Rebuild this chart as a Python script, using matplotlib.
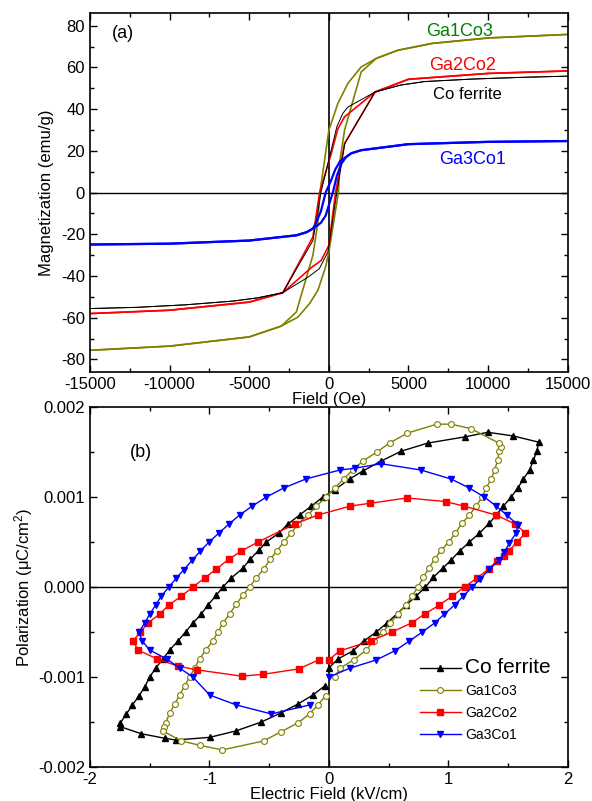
import matplotlib
matplotlib.use('Agg')
import matplotlib.pyplot as plt
from matplotlib.ticker import MultipleLocator, FormatStrFormatter

plt.rcParams['font.family'] = ['Liberation Sans', 'DejaVu Sans']
plt.rcParams['mathtext.fontset'] = 'custom'
plt.rcParams['mathtext.rm'] = 'Liberation Sans'
plt.rcParams['mathtext.it'] = 'Liberation Sans:italic'
plt.rcParams['axes.unicode_minus'] = False

# ---------------- Panel (a): M-H loops ----------------
# Co ferrite
co_desc_H = [15000, 12000, 9000, 6000, 4500, 2900, 1200, 880, 500, -500, -750, -1000, -2900, -4500, -6000, -9000, -12000, -15000]
co_desc_M = [55.8, 55.2, 54.4, 53.2, 51.5, 48.2, 41.0, 38.0, 31.5, 0.0, -12.0, -23.0, -48.0, -50.5, -52.0, -53.8, -55.0, -55.6]
co_asc_H = [-15000, -12000, -9000, -6000, -4500, -2900, -1300, -600, -60, 500, 1000, 2900, 4500, 6000, 9000, 12000, 15000]
co_asc_M = [-55.6, -55.0, -53.8, -52.0, -50.5, -48.0, -40.5, -36.5, -28.5, 0.0, 23.5, 48.2, 51.5, 53.2, 54.4, 55.2, 55.8]

# Ga1Co3
g13_desc_H = [15000, 10000, 6500, 4330, 2975, 2030, 1192, 565, 0, -560, -700, -1000, -2045, -2990, -5000, -10000, -15000]
g13_desc_M = [75.8, 74.1, 71.5, 68.2, 64.3, 60.2, 52.3, 42.7, 29.9, 0.0, -15.0, -30.0, -57.3, -64.0, -69.2, -73.6, -75.6]
g13_asc_H = [-15000, -10000, -5000, -2990, -1945, -1211, -690, -207, 0, 600, 700, 985, 2030, 2975, 4330, 6500, 10000, 15000]
g13_asc_M = [-75.6, -73.6, -69.2, -64.0, -59.7, -53.2, -46.9, -35.7, -28.5, 0.0, 15.5, 29.9, 57.8, 64.3, 68.2, 71.5, 74.1, 75.8]

# Ga2Co2
g22_desc_H = [15000, 10000, 5000, 2900, 985, 565, 150, -580, -1004, -2887, -5000, -10000, -15000]
g22_desc_M = [58.3, 57.1, 54.3, 48.2, 36.3, 30.5, 18.7, 0.0, -21.3, -48.0, -52.5, -56.4, -58.0]
g22_asc_H = [-15000, -10000, -5000, -2887, -1105, -477, 0, 420, 985, 2900, 5000, 10000, 15000]
g22_asc_M = [-58.0, -56.4, -52.5, -48.0, -36.0, -32.5, -25.3, 0.0, 23.5, 48.2, 54.3, 57.1, 58.3]

# Ga3Co1
g31_desc_H = [15000, 10000, 5000, 2030, 1400, 1090, 700, 400, 150, -200, -500, -800, -1004, -1400, -2045, -5000, -10000, -15000]
g31_desc_M = [24.7, 24.3, 23.2, 20.3, 18.8, 17.1, 15.0, 11.0, 6.0, 0.0, -9.0, -14.5, -17.3, -19.0, -20.5, -23.0, -24.5, -24.9]
g31_asc_H = [-15000, -10000, -5000, -2045, -1400, -1004, -500, -200, 0, 250, 500, 800, 1090, 1400, 2030, 5000, 10000, 15000]
g31_asc_M = [-24.9, -24.5, -23.0, -20.5, -19.0, -17.3, -14.5, -11.0, -6.0, 0.0, 8.0, 14.0, 17.1, 18.8, 20.3, 23.2, 24.3, 24.7]

# ---------------- Panel (b): P-E loops ----------------
co_E = [0, 0.075, 0.2, 0.293, 0.397, 0.485, 0.569, 0.647, 0.731, 0.809, 0.876, 0.954, 1.024, 1.094, 1.177, 1.261,
        1.345, 1.4, 1.462, 1.526, 1.582, 1.629, 1.68, 1.713, 1.741, 1.757,
        1.54, 1.33, 1.144, 0.829, 0.606, 0.438, 0.285, 0.173, 0.048, -0.05, -0.147, -0.245, -0.343, -0.418, -0.524,
        -0.586, -0.658, -0.72, -0.817, -0.887, -0.942, -1.013, -1.068, -1.138, -1.2, -1.264, -1.333, -1.389, -1.45,
        -1.5, -1.542, -1.59, -1.645, -1.695, -1.746, -1.75,
        -1.57, -1.375, -1.283, -0.998, -0.781, -0.566, -0.404, -0.259, -0.134, -0.036]
co_P = [-0.0009, -0.0008, -0.00071, -0.0006, -0.0005, -0.0004, -0.0003, -0.0002, -0.0001, 0.0, 0.00011, 0.00021,
        0.0003, 0.0004, 0.0005, 0.0006, 0.00071, 0.0008, 0.0009, 0.001, 0.0011, 0.0012, 0.0013, 0.00141, 0.00151, 0.00161,
        0.00168, 0.00172, 0.00167, 0.0016, 0.00151, 0.0014, 0.00129, 0.0012, 0.00108, 0.001, 0.0009, 0.0008, 0.0007,
        0.0006, 0.0005, 0.00041, 0.00031, 0.00021, 0.0001, 0.0, -0.00009, -0.0002, -0.0003, -0.0004, -0.0005, -0.0006,
        -0.0007, -0.0008, -0.0009, -0.001, -0.00111, -0.00121, -0.00131, -0.00141, -0.00151, -0.00155,
        -0.00163, -0.00168, -0.0017, -0.00167, -0.0016, -0.0015, -0.0014, -0.0013, -0.0012, -0.0011]

g13_E = [0.048, 0.095, 0.207, 0.313, 0.374, 0.452, 0.514, 0.578, 0.642, 0.698, 0.745, 0.792, 0.837, 0.885, 0.941,
         1.004, 1.06, 1.116, 1.177, 1.233, 1.284, 1.317, 1.359, 1.387, 1.414, 1.423, 1.443,
         1.423, 1.19, 1.024, 0.904, 0.656, 0.508, 0.402, 0.285, 0.2, 0.123, 0.048, -0.022, -0.105, -0.176, -0.259,
         -0.315, -0.379, -0.435, -0.49, -0.546, -0.608, -0.664, -0.72, -0.775, -0.831, -0.887, -0.93, -0.971, -1.032,
         -1.082, -1.124, -1.166, -1.208, -1.249, -1.291, -1.333, -1.367, -1.383, -1.389,
         -1.235, -1.076, -0.892, -0.546, -0.404, -0.259, -0.162, -0.092, -0.028]
g13_P = [-0.001, -0.0009, -0.00081, -0.0007, -0.0006, -0.0005, -0.0004, -0.0003, -0.0002, -0.0001, 0.0, 0.00011,
         0.00021, 0.00031, 0.00041, 0.0005, 0.0006, 0.00071, 0.0008, 0.0009, 0.001, 0.0011, 0.0012, 0.0013, 0.00141,
         0.00151, 0.00156,
         0.0016, 0.00176, 0.00181, 0.00181, 0.00171, 0.0016, 0.0015, 0.0014, 0.0013, 0.0012, 0.0011, 0.001, 0.0009,
         0.0008, 0.0007, 0.0006, 0.0005, 0.0004, 0.00031, 0.0002, 0.0001, 0.0, -0.00009, -0.00019, -0.0003, -0.0004,
         -0.0005, -0.0006, -0.0007, -0.0008, -0.0009, -0.001, -0.0011, -0.0012, -0.0013, -0.0014, -0.00151, -0.00155,
         -0.0016,
         -0.00171, -0.00176, -0.00181, -0.00171, -0.00161, -0.00151, -0.00141, -0.00131, -0.00121]

g22_E = [0, 0.09, 0.349, 0.527, 0.692, 0.801, 0.926, 1.032, 1.136, 1.239, 1.339, 1.406, 1.47, 1.506, 1.576, 1.646,
         1.562, 1.4, 1.13, 0.977, 0.653, 0.341, 0.179, -0.092, -0.287, -0.594, -0.733, -0.837, -0.942, -1.04, -1.138,
         -1.235, -1.339, -1.417, -1.515, -1.578, -1.64,
         -1.598, -1.436, -1.26, -1.105, -0.731, -0.552, -0.254, -0.086]
g22_P = [-0.00081, -0.00071, -0.0006, -0.0005, -0.0004, -0.0003, -0.0002, -0.0001, 0.0, 0.0001, 0.0002, 0.00029,
         0.00035, 0.0004, 0.0005, 0.0006,
         0.0007, 0.0008, 0.0009, 0.00095, 0.00099, 0.00093, 0.0009, 0.0008, 0.0007, 0.0005, 0.0004, 0.00031, 0.0002,
         0.0001, 0.0, -0.0001, -0.0002, -0.0003, -0.0004, -0.0005, -0.0006,
         -0.0007, -0.0008, -0.00088, -0.00092, -0.00099, -0.00097, -0.00091, -0.00081]

g31_E = [0, 0.179, 0.397, 0.55, 0.675, 0.781, 0.885, 0.968, 1.052, 1.127, 1.2, 1.267, 1.345, 1.428, 1.47, 1.512,
         1.568, 1.582,
         1.49, 1.4, 1.303, 1.177, 1.024, 0.773, 0.438, 0.215, 0.09, -0.195, -0.379, -0.524, -0.641, -0.747, -0.837,
         -0.92, -1.004, -1.076, -1.143, -1.216, -1.277, -1.339, -1.403, -1.45, -1.5, -1.542, -1.59,
         -1.562, -1.5, -1.356, -1.25, -1.138, -0.998, -0.775, -0.482, -0.162]
g31_P = [-0.001, -0.0009, -0.00081, -0.00071, -0.0006, -0.0005, -0.0004, -0.0003, -0.0002, -0.0001, 0.0, 0.00009,
         0.0002, 0.0003, 0.00039, 0.00049, 0.0006, 0.00069,
         0.0008, 0.0009, 0.001, 0.0011, 0.0012, 0.0013, 0.00137, 0.00132, 0.0013, 0.0012, 0.0011, 0.001, 0.0009,
         0.0008, 0.0007, 0.0006, 0.0005, 0.0004, 0.0003, 0.00019, 0.0001, 0.0, -0.0001, -0.0002, -0.0003, -0.0004,
         -0.0005,
         -0.0006, -0.0007, -0.0008, -0.0009, -0.001, -0.0012, -0.00131, -0.00141, -0.00131]

labels = ['Co ferrite', 'Ga1Co3', 'Ga2Co2', 'Ga3Co1']

OLIVE = '#808000'

fig = plt.figure(figsize=(5.92, 8.01), dpi=100)
axA = fig.add_axes([0.152, 0.5356, 0.807, 0.448])
axB = fig.add_axes([0.152, 0.0424, 0.807, 0.4494])

def style(ax):
    for s in ax.spines.values():
        s.set_linewidth(1.2)
    ax.tick_params(which='both', direction='in', top=True, right=True, labelsize=12, width=1)
    ax.tick_params(which='major', length=5)
    ax.tick_params(which='minor', length=3)

# ---- (a)
axA.axhline(0, color='black', lw=1)
axA.axvline(0, color='black', lw=1.2)
axA.plot(g13_desc_H, g13_desc_M, color=OLIVE, lw=1.2)
axA.plot(g13_asc_H, g13_asc_M, color=OLIVE, lw=1.2)
axA.plot(g22_desc_H, g22_desc_M, color='red', lw=1.2)
axA.plot(g22_asc_H, g22_asc_M, color='red', lw=1.2)
axA.plot(co_desc_H, co_desc_M, color='black', lw=0.7)
axA.plot(co_asc_H, co_asc_M, color='black', lw=0.7)
axA.plot(g31_desc_H, g31_desc_M, color='blue', lw=1.6)
axA.plot(g31_asc_H, g31_asc_M, color='blue', lw=1.6)
axA.set_xlim(-15000, 15000)
axA.set_ylim(-86, 86)
axA.xaxis.set_major_locator(MultipleLocator(5000))
axA.xaxis.set_minor_locator(MultipleLocator(2500))
axA.yaxis.set_major_locator(MultipleLocator(20))
axA.yaxis.set_minor_locator(MultipleLocator(10))
style(axA)
axA.set_xlabel('Field (Oe)', fontsize=12, labelpad=0)
axA.set_ylabel('Magnetization (emu/g)', fontsize=12, labelpad=5)
axA.text(-13640, 76.4, '(a)', fontsize=13, ha='left', va='center')
axA.text(6130, 77, 'Ga1Co3', color='#008000', fontsize=13, ha='left', va='center')
axA.text(6320, 61, 'Ga2Co2', color='red', fontsize=13, ha='left', va='center')
axA.text(6510, 46.8, 'Co ferrite', color='black', fontsize=12, ha='left', va='center')
axA.text(6950, 16, 'Ga3Co1', color='blue', fontsize=13, ha='left', va='center')

# ---- (b)
axB.axhline(0, color='black', lw=1)
axB.axvline(0, color='black', lw=1.2)
h1, = axB.plot(co_E, co_P, color='black', lw=1, marker='^', ms=5)
h2, = axB.plot(g13_E, g13_P, color=OLIVE, lw=1, marker='o', ms=4.2, mfc='white', mec=OLIVE, mew=0.8)
h3, = axB.plot(g22_E, g22_P, color='red', lw=1, marker='s', ms=4.2)
h4, = axB.plot(g31_E, g31_P, color='blue', lw=1, marker='v', ms=5)
axB.set_xlim(-2, 2)
axB.set_ylim(-0.002, 0.002)
axB.xaxis.set_major_locator(MultipleLocator(1))
axB.xaxis.set_minor_locator(MultipleLocator(0.5))
axB.yaxis.set_major_locator(MultipleLocator(0.001))
axB.yaxis.set_minor_locator(MultipleLocator(0.0005))
axB.yaxis.set_major_formatter(FormatStrFormatter('%.3f'))
style(axB)
axB.set_xlabel('Electric Field (kV/cm)', fontsize=12, labelpad=0)
axB.set_ylabel('Polarization (μC/cm$^2$)', fontsize=12, labelpad=2)
axB.text(-1.668, 0.0015, '(b)', fontsize=13, ha='left', va='center')

leg = axB.legend([h1, h2, h3, h4], labels, loc='center left', bbox_to_anchor=(0.69, 0.1875),
                 frameon=False, fontsize=10, handlelength=3.0, handletextpad=0.3,
                 labelspacing=0.55, borderpad=0, borderaxespad=0)
leg.get_texts()[0].set_fontsize(15)

fig.savefig('out.png', dpi=100)
